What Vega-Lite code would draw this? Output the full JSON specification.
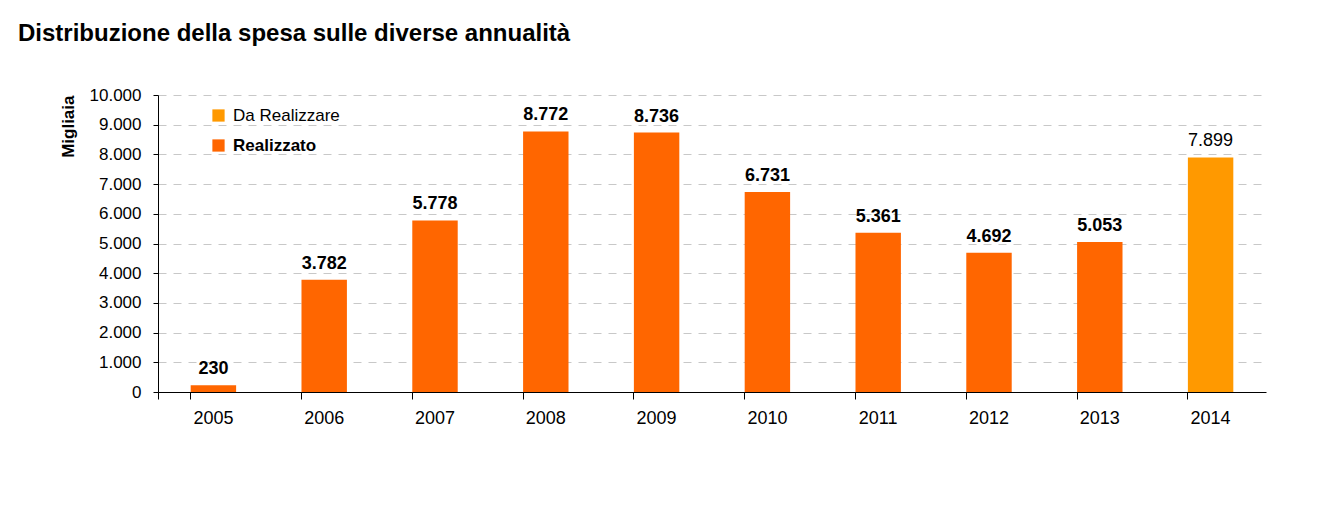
{
  "$schema": "https://vega.github.io/schema/vega-lite/v6.json",
  "width": 1108,
  "height": 297,
  "autosize": "none",
  "padding": {"left": 158, "top": 95, "right": 51, "bottom": 137},
  "background": "#ffffff",
  "config": {
    "locale": {"number": {"decimal": ",", "thousands": ".", "grouping": [3], "currency": ["€", ""]}},
    "font": "Liberation Sans",
    "view": {"stroke": null}
  },
  "title": {
    "text": "Distribuzione della spesa sulle diverse annualità",
    "anchor": "start",
    "frame": "group",
    "dx": -140,
    "baseline": "alphabetic",
    "offset": 21,
    "fontSize": 24,
    "fontWeight": "bold",
    "color": "#000000",
    "font": "Liberation Sans"
  },
  "data": {
    "values": [
      {"anno": "2005", "valore": 230, "stato": "Realizzato"},
      {"anno": "2006", "valore": 3782, "stato": "Realizzato"},
      {"anno": "2007", "valore": 5778, "stato": "Realizzato"},
      {"anno": "2008", "valore": 8772, "stato": "Realizzato"},
      {"anno": "2009", "valore": 8736, "stato": "Realizzato"},
      {"anno": "2010", "valore": 6731, "stato": "Realizzato"},
      {"anno": "2011", "valore": 5361, "stato": "Realizzato"},
      {"anno": "2012", "valore": 4692, "stato": "Realizzato"},
      {"anno": "2013", "valore": 5053, "stato": "Realizzato"},
      {"anno": "2014", "valore": 7899, "stato": "Da Realizzare"}
    ]
  },
  "encoding": {
    "x": {
      "field": "anno",
      "type": "ordinal",
      "scale": {"paddingInner": 0.59, "paddingOuter": 0.295},
      "axis": {
        "title": null,
        "labelAngle": 0,
        "labelFontSize": 18,
        "labelColor": "#000000",
        "labelPadding": 10,
        "domainColor": "#000000",
        "tickColor": "#000000",
        "tickSize": 7,
        "bandPosition": 0,
        "tickExtra": true,
        "grid": false
      }
    },
    "y": {
      "field": "valore",
      "type": "quantitative",
      "scale": {"domain": [0, 10000], "nice": false},
      "axis": {
        "title": "Migliaia",
        "titleFontSize": 17,
        "titleFontWeight": "bold",
        "titleColor": "#000000",
        "titleAnchor": "end",
        "titlePadding": 12,
        "format": ",d",
        "values": [0, 1000, 2000, 3000, 4000, 5000, 6000, 7000, 8000, 9000, 10000],
        "labelFontSize": 17,
        "labelColor": "#000000",
        "labelPadding": 12,
        "tickSize": 5,
        "tickColor": "#000000",
        "domainColor": "#000000",
        "grid": true,
        "gridColor": "#c8c8c8",
        "gridDash": [8, 7]
      }
    }
  },
  "layer": [
    {
      "mark": {"type": "bar"},
      "encoding": {
        "color": {
          "field": "stato",
          "type": "nominal",
          "scale": {"domain": ["Da Realizzare", "Realizzato"], "range": ["#FF9900", "#FF6600"]},
          "legend": {
            "title": null,
            "orient": "none",
            "legendX": 52,
            "legendY": 12,
            "padding": 0,
            "symbolType": "square",
            "symbolSize": 150,
            "symbolStrokeWidth": 0,
            "labelFontSize": 17,
            "labelColor": "#000000",
            "labelOffset": 6,
            "rowPadding": 12,
            "encode": {
              "labels": {"update": {"fontWeight": {"signal": "datum.label === 'Realizzato' ? 'bold' : 'normal'"}}}
            }
          }
        }
      }
    },
    {
      "transform": [{"filter": "datum.stato === 'Realizzato'"}],
      "mark": {"type": "text", "baseline": "alphabetic", "dy": -11, "fontSize": 18, "fontWeight": "bold", "color": "#000000"},
      "encoding": {"text": {"field": "valore", "type": "quantitative", "format": ",d"}}
    },
    {
      "transform": [{"filter": "datum.stato === 'Da Realizzare'"}],
      "mark": {"type": "text", "baseline": "alphabetic", "dy": -11, "fontSize": 18, "fontWeight": "normal", "color": "#000000"},
      "encoding": {"text": {"field": "valore", "type": "quantitative", "format": ",d"}}
    }
  ]
}
